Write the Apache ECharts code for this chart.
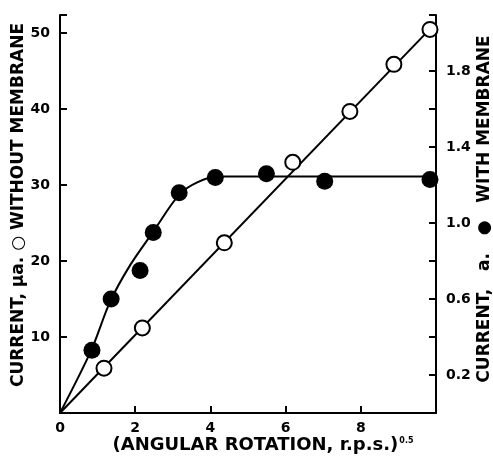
<!DOCTYPE html>
<html>
<head>
<meta charset="utf-8">
<script src="https://cdn.jsdelivr.net/npm/echarts@6/dist/echarts.min.js"></script>
<style>html,body{margin:0;padding:0;background:#fff}#c{width:493px;height:463px}</style>
</head>
<body>
<div id="c"></div>
<script>
// Open circles: current without membrane (left axis, µa)
const openX = [1.17, 2.19, 4.37, 6.19, 7.71, 8.88, 9.84];
const openY = [5.9, 11.2, 22.4, 33.0, 39.7, 45.9, 50.5];
// Straight line drawn through the open circles
const openLineX = [0, 9.85];
const openLineY = [0, 50.6];
// Filled circles: current with membrane (right axis, a)
const filledX = [0.85, 1.36, 2.13, 2.48, 3.17, 4.13, 5.49, 7.04, 9.84];
const filledY = [0.33, 0.60, 0.75, 0.95, 1.16, 1.24, 1.26, 1.22, 1.23];
// Curve drawn through the filled circles
const curveX = [0, 0.83, 1.33, 1.87, 2.48, 3.17, 3.65, 4.2, 10];
const curveY = [0, 0.33, 0.585, 0.78, 0.955, 1.15, 1.215, 1.245, 1.245];
// Tick labels
const xTickLabels = [0, 2, 4, 6, 8];
const leftTickLabels = [10, 20, 30, 40, 50];
const rightTickLabels = [0.2, 0.6, 1.0, 1.4, 1.8];

const zip = (a, b) => a.map((v, i) => [v, b[i]]);
const FONT = 'DejaVu Sans';
const chart = echarts.init(document.getElementById('c'), null, {renderer: 'canvas'});
const axisLine = {show: true, onZero: false, lineStyle: {color: '#000', width: 2}};
const tick = {show: true, inside: true, length: 7, lineStyle: {color: '#000', width: 2}};
const lbl = {color: '#000', fontFamily: FONT, fontWeight: 'bold', fontSize: 14};
const nameStyle = {fontFamily: FONT, fontWeight: 'bold', fontSize: 17, color: '#000'};
chart.setOption({
  animation: false,
  backgroundColor: '#fff',
  grid: {left: 60, right: 57, top: 15, bottom: 50, containLabel: false, outerBoundsMode: 'none'},
  xAxis: {
    type: 'value', min: 0, max: 10, interval: 2,
    axisLine: axisLine, axisTick: tick, splitLine: {show: false},
    axisLabel: Object.assign({}, lbl, {margin: 8, showMaxLabel: false,
      formatter: v => xTickLabels.includes(Math.round(v * 100) / 100) ? String(v) : ''}),
    name: '{a|(ANGULAR ROTATION, r.p.s.)}{s|0.5}',
    nameLocation: 'middle', nameGap: 23, nameMoveOverlap: false,
    nameTextStyle: {padding: [0, 0, 0, 30], rich: {
      a: {fontFamily: FONT, fontWeight: 'bold', fontSize: 18, color: '#000'},
      s: {fontFamily: FONT, fontWeight: 'bold', fontSize: 8, color: '#000', padding: [0, 0, 8, 1]}
    }}
  },
  yAxis: [{
    type: 'value', position: 'left', min: 0, max: 52.4, interval: 10,
    axisLine: axisLine, axisTick: tick, splitLine: {show: false},
    axisLabel: Object.assign({}, lbl, {margin: 10,
      formatter: v => leftTickLabels.includes(Math.round(v * 100) / 100) ? String(v) : ''}),
    name: 'CURRENT, μa. ○ WITHOUT MEMBRANE',
    nameLocation: 'middle', nameRotate: 90, nameGap: 33, nameMoveOverlap: false,
    nameTextStyle: Object.assign({}, nameStyle, {padding: [0, 0, 0, 18]})
  }, {
    type: 'value', position: 'right', min: 0, max: 2.096, interval: 0.2,
    axisLine: axisLine, axisTick: tick, splitLine: {show: false},
    axisLabel: Object.assign({}, lbl, {margin: 10,
      formatter: v => rightTickLabels.includes(Math.round(v * 100) / 100) ? v.toFixed(1) : ''}),
    name: 'CURRENT,   a.   ●   WITH MEMBRANE',
    nameLocation: 'middle', nameRotate: 90, nameGap: 40, nameMoveOverlap: false,
    nameTextStyle: Object.assign({}, nameStyle, {padding: [0, 0, 0, 10]})
  }],
  series: [{
    type: 'line', data: zip(openLineX, openLineY), symbol: 'none',
    lineStyle: {color: '#000', width: 2}, z: 2
  }, {
    type: 'line', yAxisIndex: 1, data: zip(curveX, curveY), symbol: 'none', smooth: 0.3,
    lineStyle: {color: '#000', width: 2}, z: 2
  }, {
    type: 'scatter', data: zip(openX, openY), symbol: 'circle', symbolSize: 15,
    itemStyle: {color: '#fff', borderColor: '#000', borderWidth: 2, opacity: 1}, z: 3
  }, {
    type: 'scatter', yAxisIndex: 1, data: zip(filledX, filledY), symbol: 'circle', symbolSize: 17,
    itemStyle: {color: '#000', opacity: 1}, z: 3
  }]
});
</script>
</body>
</html>
